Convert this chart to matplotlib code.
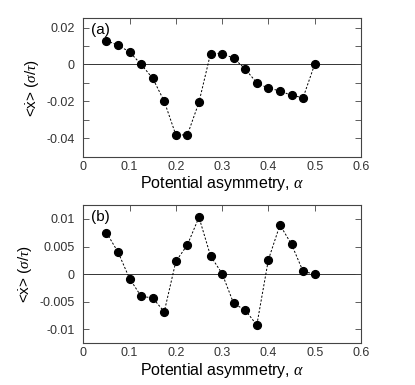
import numpy as np
import matplotlib.pyplot as plt
from matplotlib.ticker import MultipleLocator, FixedLocator

plt.rcParams['font.family'] = ['Liberation Sans', 'DejaVu Sans']
plt.rcParams['mathtext.fontset'] = 'custom'
plt.rcParams['mathtext.rm'] = 'Liberation Sans'
plt.rcParams['mathtext.it'] = 'Liberation Serif:italic'

# potential asymmetry values
alpha = [0.05, 0.075, 0.1, 0.125, 0.15, 0.175, 0.2, 0.225, 0.25, 0.275,
         0.3, 0.325, 0.35, 0.375, 0.4, 0.425, 0.45, 0.475, 0.5]

# panel (a) mean velocity
vel_a = [0.0129, 0.0104, 0.0068, 0.0, -0.0075, -0.0200, -0.0382, -0.0382,
         -0.0205, 0.0059, 0.0059, 0.0034, -0.0025, -0.0100, -0.0129,
         -0.0143, -0.0168, -0.0180, 0.0]

# panel (b) mean velocity
vel_b = [0.0075, 0.0040, -0.0008, -0.0040, -0.0043, -0.0068, 0.0023,
         0.0053, 0.0103, 0.0033, 0.0001, -0.0053, -0.0065, -0.0092,
         0.0026, 0.0089, 0.0054, 0.0005, 0.0]

xticks = [0, 0.1, 0.2, 0.3, 0.4, 0.5, 0.6]
xticklabels = ['0', '0.1', '0.2', '0.3', '0.4', '0.5', '0.6']

fig = plt.figure(figsize=(4.15, 3.85), dpi=100)
ax_a = fig.add_axes([0.2007, 0.593, 0.669, 0.3595])
ax_b = fig.add_axes([0.2007, 0.1083, 0.669, 0.3592])

panels = [
    (ax_a, vel_a, (-0.05, 0.025), [0.02, 0, -0.02, -0.04], ['0.02', '0', '-0.02', '-0.04'], 0.01, '(a)'),
    (ax_b, vel_b, (-0.0125, 0.0125), [0.01, 0.005, 0, -0.005, -0.01],
     ['0.01', '0.005', '0', '-0.005', '-0.01'], 0.005, '(b)'),
]

for ax, vel, ylim, yt, ytl, ystep, tag in panels:
    ax.axhline(0, color='#333333', lw=0.7, zorder=1)
    ax.plot(alpha, vel, color='black', lw=0.7, ls=(0, (2.2, 1.8)),
            marker='o', ms=5.6, mfc='black', mec='black', zorder=3)
    ax.set_xlim(0, 0.6)
    ax.set_ylim(*ylim)
    ax.set_xticks(xticks)
    ax.set_xticklabels(xticklabels)
    ax.yaxis.set_major_locator(FixedLocator(yt))
    ax.set_yticklabels(ytl)
    ax.yaxis.set_minor_locator(MultipleLocator(ystep))
    ax.tick_params(axis='y', which='both', direction='in', left=True, right=True,
                   length=4, width=0.6, color='#444444', labelsize=9,
                   labelcolor='#333333', pad=6)
    ax.tick_params(axis='y', which='minor', length=4)
    ax.tick_params(axis='x', direction='in', top=True, bottom=False,
                   length=4, width=0.6, color='#444444', labelsize=9,
                   labelcolor='#333333', pad=3)
    for s in ax.spines.values():
        s.set_linewidth(0.8)
        s.set_color('#444444')
    ax.set_xlabel(r'Potential asymmetry, $\alpha$', fontsize=11.5, labelpad=1)
    ax.set_ylabel(r'<$\dot{\mathrm{x}}$> ($\sigma/\tau$)', fontsize=11, labelpad=4)
    ax.text(0.027, 0.965, tag, transform=ax.transAxes, fontsize=11,
            ha='left', va='top')

fig.savefig('out.png', dpi=100)
